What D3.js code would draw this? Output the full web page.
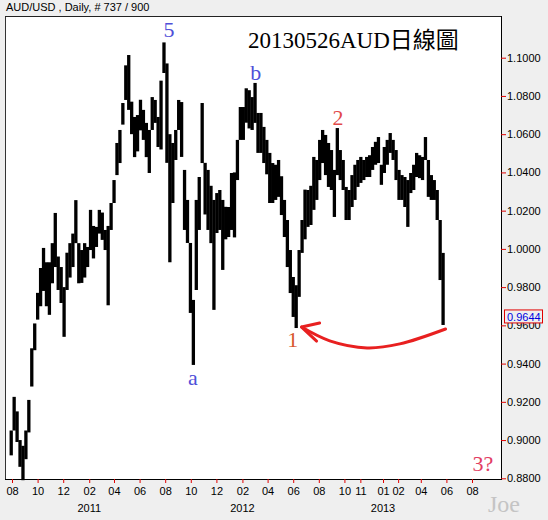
<!DOCTYPE html>
<html><head><meta charset="utf-8">
<script src="https://cdn.jsdelivr.net/npm/d3@7"></script>
<style>
body{margin:0;background:#efefef;}
svg{display:block;}
</style>
</head><body>
<svg id="chart" width="548" height="520"></svg>
<script>
// ---------- data ----------
const firstWeek = "2010-07-30"; // weekly bars (week ending Friday)
const weekHigh = [0.905,0.9226,0.915,0.900,0.897,0.905,0.921,0.948,0.961,0.977,
 0.990,1.0005,0.993,0.993,1.003,1.0188,0.996,0.9905,0.980,0.998,
 1.003,1.008,1.0255,1.003,0.9994,1.003,1.001,1.0204,1.012,1.0115,
 1.0204,1.019,1.0099,1.012,1.024,1.036,1.0554,1.0622,1.0763,1.096,
 1.1014,1.077,1.069,1.070,1.078,1.0727,1.0659,1.0622,1.0794,1.0779,
 1.069,1.088,1.108,1.097,1.060,1.0554,1.0622,1.0779,1.0768,1.0413,
 1.0256,1.0031,0.9733,1.0256,1.0376,1.0763,1.045,1.0413,1.033,1.0256,
 1.0292,1.0308,1.0256,1.022,1.0219,1.0397,1.040,1.057,1.0742,1.0742,
 1.084,1.083,1.0794,1.0868,1.0711,1.0711,1.0638,1.057,1.0502,1.0449,
 1.044,1.0465,1.038,1.0256,1.0151,0.9994,0.9853,0.981,0.9994,1.0151,
 1.031,1.0308,1.033,1.0481,1.0465,1.057,1.0622,1.0596,1.0554,1.0517,
 1.0413,1.0632,1.0517,1.0465,1.0324,1.0308,1.0386,1.044,1.0465,1.0481,
 1.0465,1.0481,1.049,1.0533,1.056,1.0585,1.044,1.0533,1.057,1.0606,
 1.057,1.0517,1.0413,1.0386,1.0376,1.036,1.0397,1.044,1.0502,1.049,
 1.0481,1.0585,1.0465,1.0386,1.036,1.0308,1.0151,0.9979];
const weekLow = [0.892,0.905,0.899,0.886,0.879,0.890,0.904,0.928,0.947,0.963,
 0.970,0.978,0.970,0.9655,0.982,0.9905,0.9785,0.9717,0.954,0.9785,
 0.985,0.9905,1.003,0.982,0.9822,0.985,0.9905,0.9994,0.995,1.001,
 1.008,1.0047,0.9994,0.9705,1.0099,1.024,1.0386,1.0449,1.065,1.0779,
 1.0727,1.060,1.048,1.051,1.062,1.057,1.048,1.0397,1.0622,1.0659,
 1.0533,1.052,1.092,1.045,0.993,1.024,1.0465,1.0622,1.0481,1.0099,
 1.0031,0.9665,0.9393,0.9785,1.0099,1.0449,1.018,1.0099,1.003,0.9681,
 1.0083,1.0099,0.989,1.005,1.0062,1.0099,1.006,1.036,1.057,1.057,
 1.066,1.063,1.0622,1.0659,1.0502,1.0502,1.0449,1.039,1.024,1.024,
 1.0256,1.0272,1.0177,1.0062,0.9905,0.9769,0.9644,0.9586,0.9749,0.9979,
 1.005,1.0115,1.0125,1.0204,1.0256,1.036,1.0449,1.0386,1.0324,1.0308,
 1.0167,1.0386,1.036,1.0308,1.0151,1.0151,1.0219,1.0256,1.0324,1.0345,
 1.036,1.0376,1.0376,1.0413,1.044,1.0449,1.0335,1.0397,1.044,1.0502,
 1.0465,1.036,1.0256,1.0256,1.0219,1.0115,1.0292,1.0308,1.0376,1.037,
 1.036,1.0465,1.0272,1.0256,1.0256,1.0151,0.9837,0.9602];
const lastClose = 0.9644;

const yTicks = [0.88,0.90,0.92,0.94,0.96,0.98,1.00,1.02,1.04,1.06,1.08,1.10];
const xTickDates = ["2010-08-01","2010-10-01","2010-12-01","2011-02-01","2011-04-01","2011-06-01",
 "2011-08-01","2011-10-01","2011-12-01","2012-02-01","2012-04-01","2012-06-01","2012-08-01",
 "2012-10-01","2012-11-08","2013-01-01","2013-02-06","2013-04-01","2013-06-01","2013-08-01"];
const xTickLabels = ["08","10","12","02","04","06","08","10","12","02","04","06","08",
 "10","11","01","02","04","06","08"];
const yearDates = ["2011-02-01","2012-02-01","2013-01-01"];
const yearLabels = ["2011","2012","2013"];

const waveText  = ["5","b","2","a","1","3?"];
const waveDate  = ["2011-08-10","2012-03-04","2012-09-16","2011-10-06","2012-05-31","2013-08-27"];
const wavePrice = [1.1150,1.0920,1.0685,0.9325,0.9524,0.8880];
const waveColor = ["#4f4fd8","#4f4fd8","#e24a4a","#4f4fd8","#d8582e","#e23c62"];

const arrowDate  = ["2013-05-30","2013-02-10","2012-11-24","2012-08-27","2012-06-21"];
const arrowPrice = [0.9581,0.9503,0.9482,0.9519,0.9591];

const headerText = "AUD/USD , Daily, # 737 / 900";
const titleText = "20130526AUD日線圖";

// ---------- layout ----------
const svg = d3.select("#chart");
const parse = d3.timeParse("%Y-%m-%d");
const pLeft = 5, pRight = 501, pTop = 16, pBottom = 479;

const x = d3.scaleTime()
  .domain([parse("2010-08-01"), parse("2013-08-01")])
  .range([12, 472]);
const y = d3.scaleLinear().domain([0.88, 1.10]).range([478.3, 57.7]);

svg.append("rect").attr("width",548).attr("height",520).attr("fill","#efefef");
svg.append("rect").attr("x",pLeft).attr("y",pTop).attr("width",pRight-pLeft).attr("height",pBottom-pTop).attr("fill","#fff");
svg.append("line").attr("x1",pLeft+0.5).attr("x2",pLeft+0.5).attr("y1",pTop).attr("y2",pBottom).attr("stroke","#333");
svg.append("line").attr("x1",pLeft).attr("x2",pRight).attr("y1",pTop+0.5).attr("y2",pTop+0.5).attr("stroke","#222");

// header
svg.append("text").attr("x",6).attr("y",11).text(headerText)
  .attr("font-family","Liberation Sans, Arial, sans-serif").attr("font-size",11).attr("fill","#000");

// bars
const w0 = parse(firstWeek);
const bars = weekHigh.map((h,i)=>({date:d3.timeDay.offset(w0, 7*i), high:h, low:weekLow[i]}));
svg.append("g").selectAll("rect").data(bars).join("rect")
  .attr("x", d=>x(d.date)-1.6)
  .attr("width", 3.3)
  .attr("y", d=>y(d.high))
  .attr("height", d=>Math.max(1, y(d.low)-y(d.high)))
  .attr("fill","#000");

// y axis (right)
const yAxis = d3.axisRight(y).tickValues(yTicks).tickFormat(d3.format(".4f")).tickSize(5).tickPadding(1);
const gy = svg.append("g").attr("transform",`translate(${pRight},0)`).call(yAxis);
gy.select(".domain").attr("d",`M0.5,${pTop}V${pBottom}`).attr("stroke","#000");
gy.selectAll(".tick line").attr("stroke","#e00000");
gy.selectAll(".tick text").attr("font-family","Liberation Sans, Arial, sans-serif").attr("font-size",11).attr("fill","#000");

// x axis (bottom)
const xAxis = d3.axisBottom(x).tickValues(xTickDates.map(parse))
  .tickFormat((d,i)=>xTickLabels[i]).tickSize(4).tickPadding(4);
const gx = svg.append("g").attr("transform",`translate(0,${pBottom})`).call(xAxis);
gx.select(".domain").attr("d",`M${pLeft},0.5H${pRight+1}`).attr("stroke","#000");
gx.selectAll(".tick line").attr("stroke","#e00000");
gx.selectAll(".tick text").attr("font-family","Liberation Sans, Arial, sans-serif").attr("font-size",11).attr("fill","#000");

svg.append("g").selectAll("text").data(yearDates).join("text")
  .attr("x", d=>x(parse(d))).attr("y", 512).attr("text-anchor","middle")
  .text((d,i)=>yearLabels[i])
  .attr("font-family","Liberation Sans, Arial, sans-serif").attr("font-size",11).attr("fill","#000");

// last price box (drawn over the 0.9600 label, as in the original)
const ly = y(lastClose);
svg.append("rect").attr("x",504.5).attr("y",ly-7).attr("width",38).attr("height",13)
  .attr("fill","#efefef").attr("stroke","#e00000").attr("stroke-width",1);
svg.append("text").attr("x",507).attr("y",ly+4).text(lastClose.toFixed(4))
  .attr("font-family","Liberation Sans, Arial, sans-serif").attr("font-size",11).attr("fill","#0000e0");

// title
svg.append("text").attr("x",248).attr("y",48).text(titleText)
  .attr("font-family","Liberation Serif, 'Noto Sans CJK TC', serif").attr("font-size",23).attr("fill","#000");

// wave labels
svg.append("g").selectAll("text").data(waveText).join("text")
  .attr("x",(d,i)=>x(parse(waveDate[i]))).attr("y",(d,i)=>y(wavePrice[i]))
  .attr("text-anchor","middle").attr("dominant-baseline","central")
  .attr("font-family","Liberation Serif, serif").attr("font-size",22)
  .attr("fill",(d,i)=>waveColor[i]).text(d=>d);

// red arrow
const apts = arrowDate.map((d,i)=>[x(parse(d)), y(arrowPrice[i])]);
svg.append("path").attr("d", d3.line().curve(d3.curveCatmullRom)(apts))
  .attr("fill","none").attr("stroke","#e82020").attr("stroke-width",3).attr("stroke-linecap","round");
const tip = apts[apts.length-1];
svg.append("path").attr("d",`M${tip[0]+18},${tip[1]-4}L${tip[0]},${tip[1]}L${tip[0]+15},${tip[1]+14}`)
  .attr("fill","none").attr("stroke","#e82020").attr("stroke-width",3).attr("stroke-linecap","round").attr("stroke-linejoin","round");

// signature
svg.append("text").attr("x",488).attr("y",512).text("Joe")
  .attr("font-family","Liberation Serif, serif").attr("font-size",24).attr("fill","#c4c4c4");
</script>
</body></html>
